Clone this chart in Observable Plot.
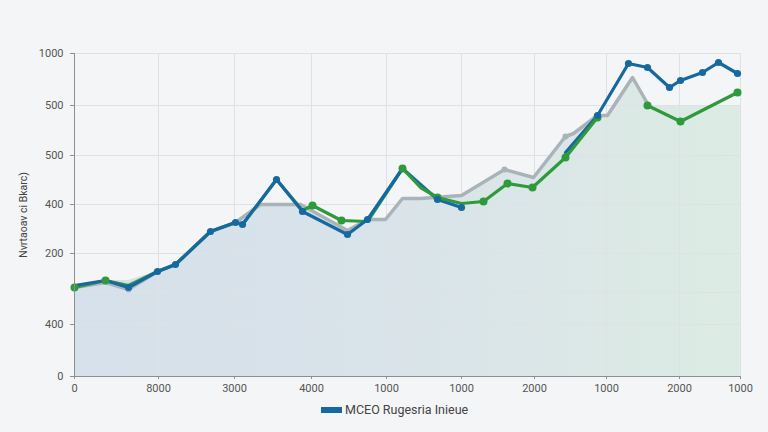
<!DOCTYPE html>
<html>
<head>
<meta charset="utf-8">
<script src="https://cdn.jsdelivr.net/npm/d3@7"></script>
<script src="https://cdn.jsdelivr.net/npm/@observablehq/plot@0.6"></script>
<style>
  html, body { margin: 0; padding: 0; background: #f4f5f6; width: 768px; height: 432px; overflow: hidden; font-family: Roboto, "Open Sans", sans-serif; }
  #chart { position: absolute; left: 0; top: 0; }
  #legend { position: absolute; left: 321px; top: 402px; display: flex; align-items: center; font-size: 12.5px; color: #444; }
  #legend .sw { width: 21px; height: 6px; background: #1669a0; margin-right: 3px; }
</style>
</head>
<body>
<div id="chart"></div>
<div id="legend"><span class="sw"></span><span>MCEO Rugesria Inieue</span></div>
<script>
// X positions (arbitrary units along the axis)
const xTicks = [0, 84, 160, 237, 312, 387, 460, 532, 605, 666];
const xLabels = ["0", "8000", "3000", "4000", "1000", "1000", "2000", "1000", "2000", "1000"];
const yTicks = [0, 52, 123, 172, 221, 271, 323];
const yLabels = ["0", "400", "200", "400", "500", "500", "1000"];
const yGridExtra = [84];
const yTitle = "Nvrtaoav ci Bkarc)";

// Gray series
const grayX = [0, 31, 54, 83, 101, 136, 161, 186, 226, 273, 293, 311, 328, 346, 387, 430, 459, 491, 499, 523, 533, 558, 573];
const grayY = [89, 94, 87, 105, 112, 145, 154, 172, 172, 146, 157, 157, 178, 178, 181, 207, 199, 240, 243, 261, 261, 299, 273];
const grayDotX = [54, 430, 491];

// Shaded area top
const areaX = [0, 31, 54, 83, 101, 136, 161, 186, 226, 273, 293, 311, 328, 346, 387, 430, 459, 491, 499, 523, 533, 558, 573, 666];
const areaY = [91, 96, 96, 105, 112, 145, 154, 172, 172, 146, 157, 157, 178, 178, 181, 207, 199, 240, 243, 261, 261, 299, 271, 271];

// Blue series (null = hidden stretch)
const blueX = [0, 31, 54, 83, 101, 136, 161, 168, 202, 228, 273, 293, 328, 363, 387, 440, 491, 523, 554, 573, 595, 606, 628, 644, 663];
const blueY = [91, 96, 89, 105, 112, 145, 154, 152, 197, 165, 142, 157, 208, 177, 169, null, 224, 261, 313, 309, 289, 296, 304, 314, 303];
const blueDotX = [54, 83, 101, 136, 161, 168, 202, 228, 273, 293, 363, 387, 523, 554, 573, 595, 606, 628, 644, 663];

// Green series
const greenX = [0, 31, 54, 83, 101, 136, 161, 168, 202, 228, 238, 267, 293, 328, 346, 363, 387, 409, 433, 458, 491, 523, 548, 573, 606, 663];
const greenY = [89, 96, 91, 105, 112, 145, 154, 152, 197, 166, 171, 156, 155, 208, 189, 179, 173, 175, 193, 189, 219, 259, null, 271, 255, 284];
const greenDotX = [0, 31, 238, 267, 328, 363, 409, 433, 458, 491, 523, 573, 606, 663];

const toRows = (xs, ys) => xs.map((x, i) => ({x, y: ys[i]}));
const gray = toRows(grayX, grayY);
const area = toRows(areaX, areaY);
const blue = toRows(blueX, blueY);
const green = toRows(greenX, greenY);
const blueLeft = blue.filter(d => d.x <= 328);
const blueRight = blue.filter(d => d.x >= 328);

const BLUE = "#1669a0", GREEN = "#2f9a3c", GRAY = "#abb3ba";

const plot = Plot.plot({
  width: 768, height: 395,
  marginLeft: 74, marginRight: 28, marginTop: 53, marginBottom: 19,
  x: {domain: [0, 666]},
  y: {domain: [0, 323]},
  style: {background: "transparent", fontFamily: "Roboto, sans-serif"},
  marks: [
    Plot.areaY(area, {x: "x", y: "y", fill: "url(#areaGrad)", curve: "linear"}),
    Plot.ruleY([...yTicks.slice(1), ...yGridExtra], {stroke: "#dfe2e5", strokeWidth: 1}),
    Plot.ruleX(xTicks.slice(1), {stroke: "#dfe2e5", strokeWidth: 1}),
    Plot.line(gray, {x: "x", y: "y", stroke: GRAY, strokeWidth: 3.5, strokeLinejoin: "round"}),
    Plot.dot(gray.filter(d => grayDotX.includes(d.x)), {x: "x", y: "y", r: 3, fill: GRAY}),
    Plot.line(blueRight, {x: "x", y: "y", stroke: BLUE, strokeWidth: 3.2, strokeLinejoin: "round"}),
    Plot.line(green, {x: "x", y: "y", stroke: GREEN, strokeWidth: 3.2, strokeLinejoin: "round"}),
    Plot.line(blueLeft, {x: "x", y: "y", stroke: BLUE, strokeWidth: 3.2, strokeLinejoin: "round"}),
    Plot.dot(green.filter(d => greenDotX.includes(d.x)), {x: "x", y: "y", r: 4, fill: GREEN}),
    Plot.dot(blue.filter(d => blueDotX.includes(d.x)), {x: "x", y: "y", r: 3.6, fill: BLUE}),
    Plot.ruleX([0], {stroke: "#8a8f94", strokeWidth: 1}),
    Plot.ruleY([0], {stroke: "#8a8f94", strokeWidth: 1}),
    Plot.axisY(yTicks, {tickFormat: (d, i) => yLabels[i], tickSize: 4, tickPadding: 7, fontSize: 11, color: "#555", stroke: "#8a8f94", label: null}),
    Plot.axisX(xTicks, {tickFormat: (d, i) => xLabels[i], tickSize: 3, tickPadding: 5, fontSize: 11, color: "#555", stroke: "#8a8f94", label: null})
  ]
});

const svg = d3.select(plot);
const defs = svg.insert("defs", ":first-child");
const g = defs.append("linearGradient").attr("id", "areaGrad").attr("x1", "0").attr("x2", "1").attr("y1", "0").attr("y2", "0");
g.append("stop").attr("offset", "0%").attr("stop-color", "#d6e0ea");
g.append("stop").attr("offset", "45%").attr("stop-color", "#d9e3ea");
g.append("stop").attr("offset", "100%").attr("stop-color", "#dcebe3");

svg.append("text")
  .attr("transform", "translate(27,215) rotate(-90)")
  .attr("text-anchor", "middle")
  .attr("font-size", 10.5)
  .attr("fill", "#444")
  .text(yTitle);

document.getElementById("chart").appendChild(plot);
</script>
</body>
</html>
